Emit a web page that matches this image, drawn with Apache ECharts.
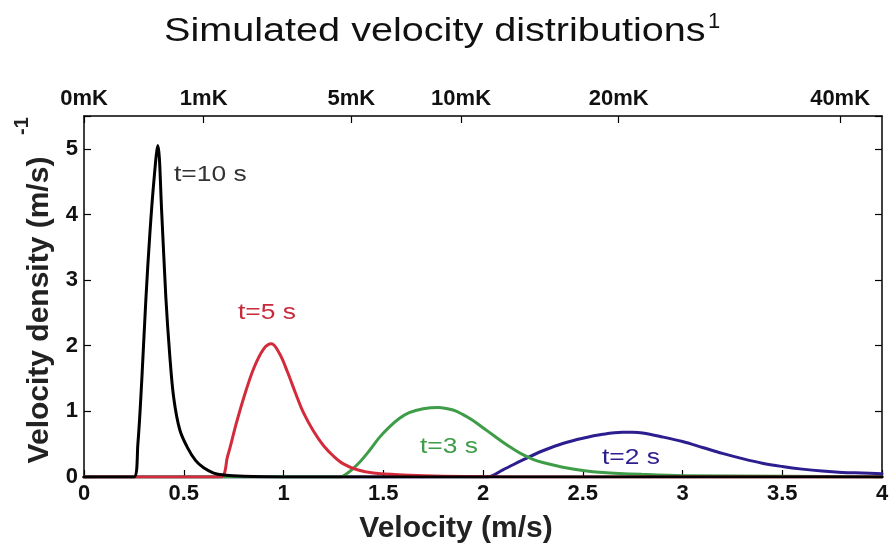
<!DOCTYPE html>
<html>
<head>
<meta charset="utf-8">
<title>Simulated velocity distributions</title>
<script src="https://cdn.jsdelivr.net/npm/echarts@6/dist/echarts.min.js"></script>
<style>
  html, body { margin: 0; padding: 0; background: #fff; }
  #chart { width: 896px; height: 545px; }
</style>
</head>
<body>
<div id="chart"></div>
<script>
// t=10 s
const blackV = [0, 0.25, 0.27, 0.29, 0.31, 0.33, 0.35, 0.37, 0.39, 0.41, 0.43, 0.45, 0.48, 0.52, 0.56, 0.6, 0.65, 0.7, 0.8, 1.0, 4.0];
const blackD = [0, 0, 0.5, 1.5, 2.7, 3.7, 4.5, 5.05, 4.0, 2.75, 1.85, 1.2, 0.72, 0.44, 0.25, 0.14, 0.06, 0.03, 0.01, 0, 0];
// t=5 s
const redV = [0, 0.68, 0.72, 0.76, 0.8, 0.85, 0.9, 0.94, 0.98, 1.02, 1.06, 1.1, 1.15, 1.2, 1.25, 1.3, 1.37, 1.45, 1.6, 1.8, 2.2, 4.0];
const redD = [0, 0, 0.32, 0.78, 1.2, 1.65, 1.95, 2.03, 1.88, 1.6, 1.28, 0.98, 0.7, 0.48, 0.32, 0.2, 0.11, 0.06, 0.03, 0.01, 0, 0];
// t=3 s
const greenV = [0, 1.28, 1.33, 1.38, 1.43, 1.48, 1.53, 1.58, 1.63, 1.7, 1.775, 1.85, 1.9, 1.95, 2.0, 2.05, 2.1, 2.15, 2.2, 2.25, 2.3, 2.4, 2.5, 2.6, 2.8, 3.0, 3.5, 4.0];
const greenD = [0, 0, 0.08, 0.22, 0.4, 0.6, 0.76, 0.89, 0.98, 1.04, 1.06, 1.02, 0.95, 0.86, 0.75, 0.64, 0.53, 0.43, 0.34, 0.27, 0.22, 0.15, 0.1, 0.07, 0.04, 0.02, 0.01, 0];
// t=2 s
const blueV = [0, 2.02, 2.1, 2.2, 2.3, 2.4, 2.5, 2.6, 2.7, 2.75, 2.8, 2.9, 3.0, 3.1, 3.2, 3.3, 3.4, 3.5, 3.6, 3.7, 3.8, 3.9, 4.0];
const blueD = [0, 0, 0.11, 0.26, 0.4, 0.51, 0.59, 0.65, 0.68, 0.68, 0.67, 0.61, 0.54, 0.45, 0.36, 0.28, 0.21, 0.16, 0.12, 0.09, 0.07, 0.06, 0.05];

// top axis: temperature marks (velocity position, label)
const topTickPos = [0, 0.6, 1.34, 1.89, 2.68, 3.79];
const topTickLabels = ['0mK', '1mK', '5mK', '10mK', '20mK', '40mK'];

const FONT = 'Liberation Sans, Arial, Helvetica, sans-serif';

function zip(xs, ys) {
  return xs.map((x, i) => [x, ys[i]]);
}

const chart = echarts.init(document.getElementById('chart'));

function curve(name, xs, ys, color) {
  return {
    name: name,
    type: 'line',
    data: zip(xs, ys),
    xAxisIndex: 0,
    yAxisIndex: 0,
    showSymbol: false,
    smooth: 0.35,
    lineStyle: { color: color, width: 3, join: 'round', cap: 'round' },
    itemStyle: { color: color },
  };
}

const tickStyle = { show: true, inside: true, length: 7, lineStyle: { color: '#000', width: 1.2 } };
const lineStyleAxis = { show: true, onZero: false, lineStyle: { color: '#000', width: 1.5 } };
const labelStyle = { color: '#111', fontFamily: FONT, fontWeight: 'bold', fontSize: 22 };

const option = {
  animation: false,
  backgroundColor: '#fff',
  grid: { left: 84, right: 14, top: 116, bottom: 68, containLabel: false },
  xAxis: [
    {
      type: 'value', position: 'bottom', min: 0, max: 4, interval: 0.5,
      axisLine: lineStyleAxis,
      axisTick: tickStyle,
      splitLine: { show: false },
      axisLabel: Object.assign({ margin: 6 }, labelStyle),
    },
    {
      type: 'value', position: 'top', min: 0, max: 4,
      axisLine: lineStyleAxis,
      axisTick: Object.assign({ customValues: topTickPos }, tickStyle),
      splitLine: { show: false },
      axisLabel: Object.assign({
        margin: 6,
        customValues: topTickPos,
        formatter: (v) => topTickLabels[topTickPos.indexOf(v)] || '',
      }, labelStyle),
    },
  ],
  yAxis: [
    {
      type: 'value', position: 'left', min: 0, max: 5.5, interval: 1,
      axisLine: lineStyleAxis,
      axisTick: tickStyle,
      splitLine: { show: false },
      axisLabel: Object.assign({
        margin: 6,
        formatter: (v) => (Number.isInteger(v) ? String(v) : ''),
      }, labelStyle),
    },
    {
      type: 'value', position: 'right', min: 0, max: 5.5, interval: 1,
      axisLine: lineStyleAxis,
      axisTick: tickStyle,
      splitLine: { show: false },
      axisLabel: { show: false },
    },
  ],
  series: [
    curve('t=2 s', blueV, blueD, '#2c1e8f'),
    curve('t=3 s', greenV, greenD, '#3f9c48'),
    curve('t=5 s', redV, redD, '#d42b3c'),
    curve('t=10 s', blackV, blackD, '#000000'),
  ],
  graphic: [
    // title + superscript
    { type: 'text', x: 164, y: 32, scaleX: 1.165, style: { text: 'Simulated velocity distributions', font: '34px ' + FONT, fill: '#111', align: 'left', verticalAlign: 'middle' } },
    { type: 'text', x: 708, y: 22, style: { text: '1', font: '22px ' + FONT, fill: '#111', align: 'left', verticalAlign: 'middle' } },
    // axis names
    { type: 'text', x: 456, y: 529, style: { text: 'Velocity (m/s)', font: 'bold 30px ' + FONT, fill: '#222', align: 'center', verticalAlign: 'middle' } },
    { type: 'text', x: 40, y: 310, rotation: Math.PI / 2, style: { text: 'Velocity density (m/s)', font: 'bold 30px ' + FONT, fill: '#222', align: 'center', verticalAlign: 'middle' } },
    { type: 'text', x: 22, y: 126, rotation: Math.PI / 2, style: { text: '-1', font: 'bold 20px ' + FONT, fill: '#222', align: 'center', verticalAlign: 'middle' } },
    // curve annotations
    { type: 'text', x: 174, y: 175, scaleX: 1.2, style: { text: 't=10 s', font: '22px ' + FONT, fill: '#333', align: 'left', verticalAlign: 'middle' } },
    { type: 'text', x: 238, y: 313, scaleX: 1.2, style: { text: 't=5 s', font: '22px ' + FONT, fill: '#c92a3b', align: 'left', verticalAlign: 'middle' } },
    { type: 'text', x: 420, y: 447, scaleX: 1.2, style: { text: 't=3 s', font: '22px ' + FONT, fill: '#3f9c48', align: 'left', verticalAlign: 'middle' } },
    { type: 'text', x: 602, y: 458, scaleX: 1.2, style: { text: 't=2 s', font: '22px ' + FONT, fill: '#2c1e8f', align: 'left', verticalAlign: 'middle' } },
  ],
};

chart.setOption(option);
</script>
</body>
</html>
